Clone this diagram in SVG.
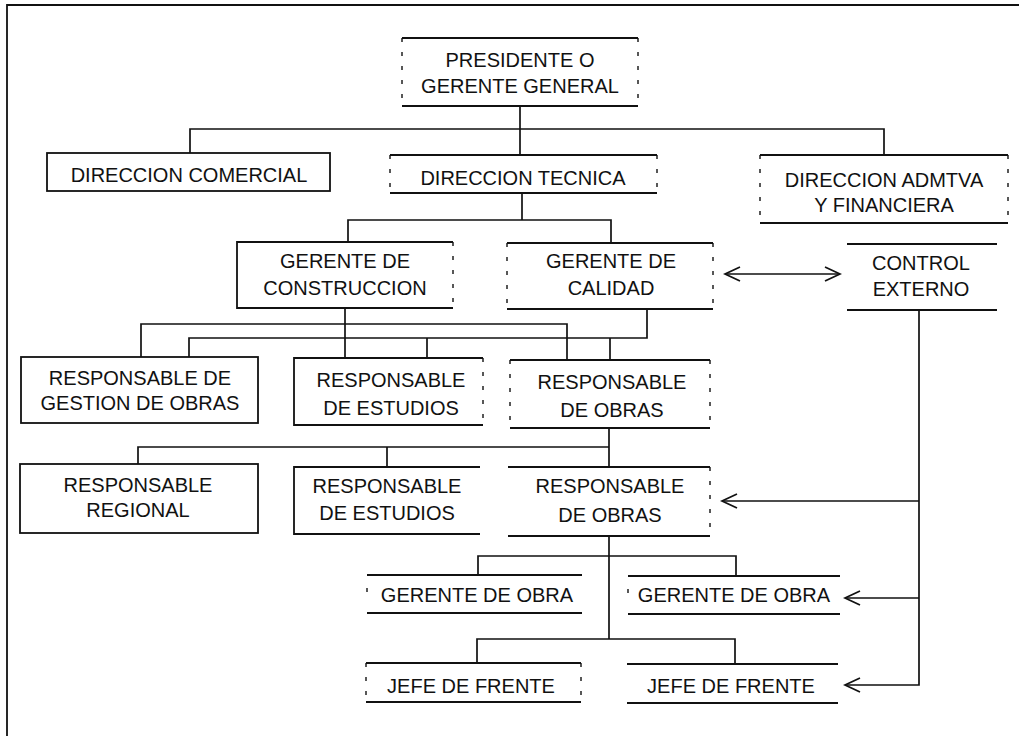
<svg xmlns="http://www.w3.org/2000/svg" width="1019" height="736" viewBox="0 0 1019 736">
<style>
.ln{fill:none;stroke:#111;stroke-width:1.8}
.ds{fill:none;stroke:#111;stroke-width:1.4;stroke-dasharray:4 10}
.cn{fill:none;stroke:#111;stroke-width:1.7}
text{font-family:"Liberation Sans",Arial,sans-serif;font-size:20px;fill:#111;text-anchor:middle}
</style>
<defs>
<marker id="chev" viewBox="-17 -9 19 18" refX="0" refY="0" markerWidth="19" markerHeight="18" markerUnits="userSpaceOnUse" orient="auto-start-reverse">
<path d="M-15,-7 L0,0 L-15,7" fill="none" stroke="#111" stroke-width="1.8"/>
</marker>
</defs>
<rect width="1019" height="736" fill="#fff"/>
<g id="frame">
<path class="ln" d="M7,736 V5 H1019"/>
</g>
<g id="connectors">
<path class="cn" d="M520,106 V155"/>
<path class="cn" d="M190,153 V129 H884 V155"/>
<path class="cn" d="M522,193 V220"/>
<path class="cn" d="M348,242 V220 H611 V243"/>
<path class="cn" d="M141,357 V324 H567 V360"/>
<path class="cn" d="M345,308 V358"/>
<path class="cn" d="M189,357 V338 H647 V309"/>
<path class="cn" d="M427,338 V358"/>
<path class="cn" d="M610,338 V360"/>
<path class="cn" d="M609,428 V467"/>
<path class="cn" d="M138,464 V447 H609"/>
<path class="cn" d="M387,447 V467"/>
<path class="cn" d="M609,536 V639"/>
<path class="cn" d="M478,575 V556 H736 V576"/>
<path class="cn" d="M477,663 V639 H735 V664"/>
<path class="cn" d="M919,310 V685 H845" marker-end="url(#chev)"/>
<path class="cn" d="M919,501 H722" marker-end="url(#chev)"/>
<path class="cn" d="M919,598 H845" marker-end="url(#chev)"/>
<path class="cn" d="M725,274 H840" marker-start="url(#chev)" marker-end="url(#chev)"/>
</g>
<g id="presidente">
<path class="ln" d="M402,38 H638 M402,106 H638"/>
<path class="ds" d="M402,38 V106 M638,38 V106"/>
<text x="520" y="67">PRESIDENTE O</text>
<text x="520" y="93">GERENTE GENERAL</text>
</g>
<g id="dir-comercial">
<rect class="ln" x="47" y="153" width="283" height="38"/>
<text x="189" y="182">DIRECCION COMERCIAL</text>
</g>
<g id="dir-tecnica">
<path class="ln" d="M390,155 H657 M390,193 H657"/>
<path class="ds" d="M390,155 V193 M657,155 V193"/>
<text x="523" y="185">DIRECCION TECNICA</text>
</g>
<g id="dir-admtva">
<path class="ln" d="M760,155 H1008 M760,223 H1008"/>
<path class="ds" d="M760,155 V223 M1008,155 V223"/>
<text x="884" y="187">DIRECCION ADMTVA</text>
<text x="884" y="212">Y FINANCIERA</text>
</g>
<g id="gerente-construccion">
<path class="ln" d="M453,242 H237 V308 H453"/>
<path class="ds" d="M453,242 V308"/>
<text x="345" y="268">GERENTE DE</text>
<text x="345" y="295">CONSTRUCCION</text>
</g>
<g id="gerente-calidad">
<path class="ln" d="M507,243 H713 M507,309 H713"/>
<path class="ds" d="M507,243 V309 M713,243 V309"/>
<text x="611" y="268">GERENTE DE</text>
<text x="611" y="295">CALIDAD</text>
</g>
<g id="control-externo">
<path class="ln" d="M847,244 H997 M847,310 H997"/>
<text x="921" y="270">CONTROL</text>
<text x="921" y="296">EXTERNO</text>
</g>
<g id="resp-gestion">
<rect class="ln" x="21" y="357" width="237" height="66"/>
<text x="140" y="385">RESPONSABLE DE</text>
<text x="140" y="410">GESTION DE OBRAS</text>
</g>
<g id="resp-estudios-1">
<path class="ln" d="M483,358 H294 V425 H483"/>
<path class="ds" d="M483,358 V425"/>
<text x="391" y="387">RESPONSABLE</text>
<text x="391" y="415">DE ESTUDIOS</text>
</g>
<g id="resp-obras-1">
<path class="ln" d="M510,360 H710 M510,428 H710"/>
<path class="ds" d="M510,360 V428 M710,360 V428"/>
<text x="612" y="389">RESPONSABLE</text>
<text x="612" y="417">DE OBRAS</text>
</g>
<g id="resp-regional">
<rect class="ln" x="20" y="464" width="238" height="69"/>
<text x="138" y="492">RESPONSABLE</text>
<text x="138" y="517">REGIONAL</text>
</g>
<g id="resp-estudios-2">
<path class="ln" d="M480,467 H294 V534 H480"/>
<text x="387" y="493">RESPONSABLE</text>
<text x="387" y="520">DE ESTUDIOS</text>
</g>
<g id="resp-obras-2">
<path class="ln" d="M508,467 H710 M508,536 H710"/>
<path class="ds" d="M710,467 V536"/>
<text x="610" y="493">RESPONSABLE</text>
<text x="610" y="522">DE OBRAS</text>
</g>
<g id="gerente-obra-1">
<path class="ln" d="M367,575 H582 M367,613 H582"/>
<path class="ds" d="M367,588 V600"/>
<text x="477" y="602">GERENTE DE OBRA</text>
</g>
<g id="gerente-obra-2">
<path class="ln" d="M628,576 H840 M628,614 H840"/>
<path class="ds" d="M628,589 V601"/>
<text x="734" y="602">GERENTE DE OBRA</text>
</g>
<g id="jefe-frente-1">
<path class="ln" d="M366,663 H581 M366,702 H581"/>
<path class="ds" d="M366,663 V702 M581,663 V702"/>
<text x="471" y="693">JEFE DE FRENTE</text>
</g>
<g id="jefe-frente-2">
<path class="ln" d="M627,664 H838 M627,703 H838"/>
<text x="731" y="693">JEFE DE FRENTE</text>
</g>
</svg>
